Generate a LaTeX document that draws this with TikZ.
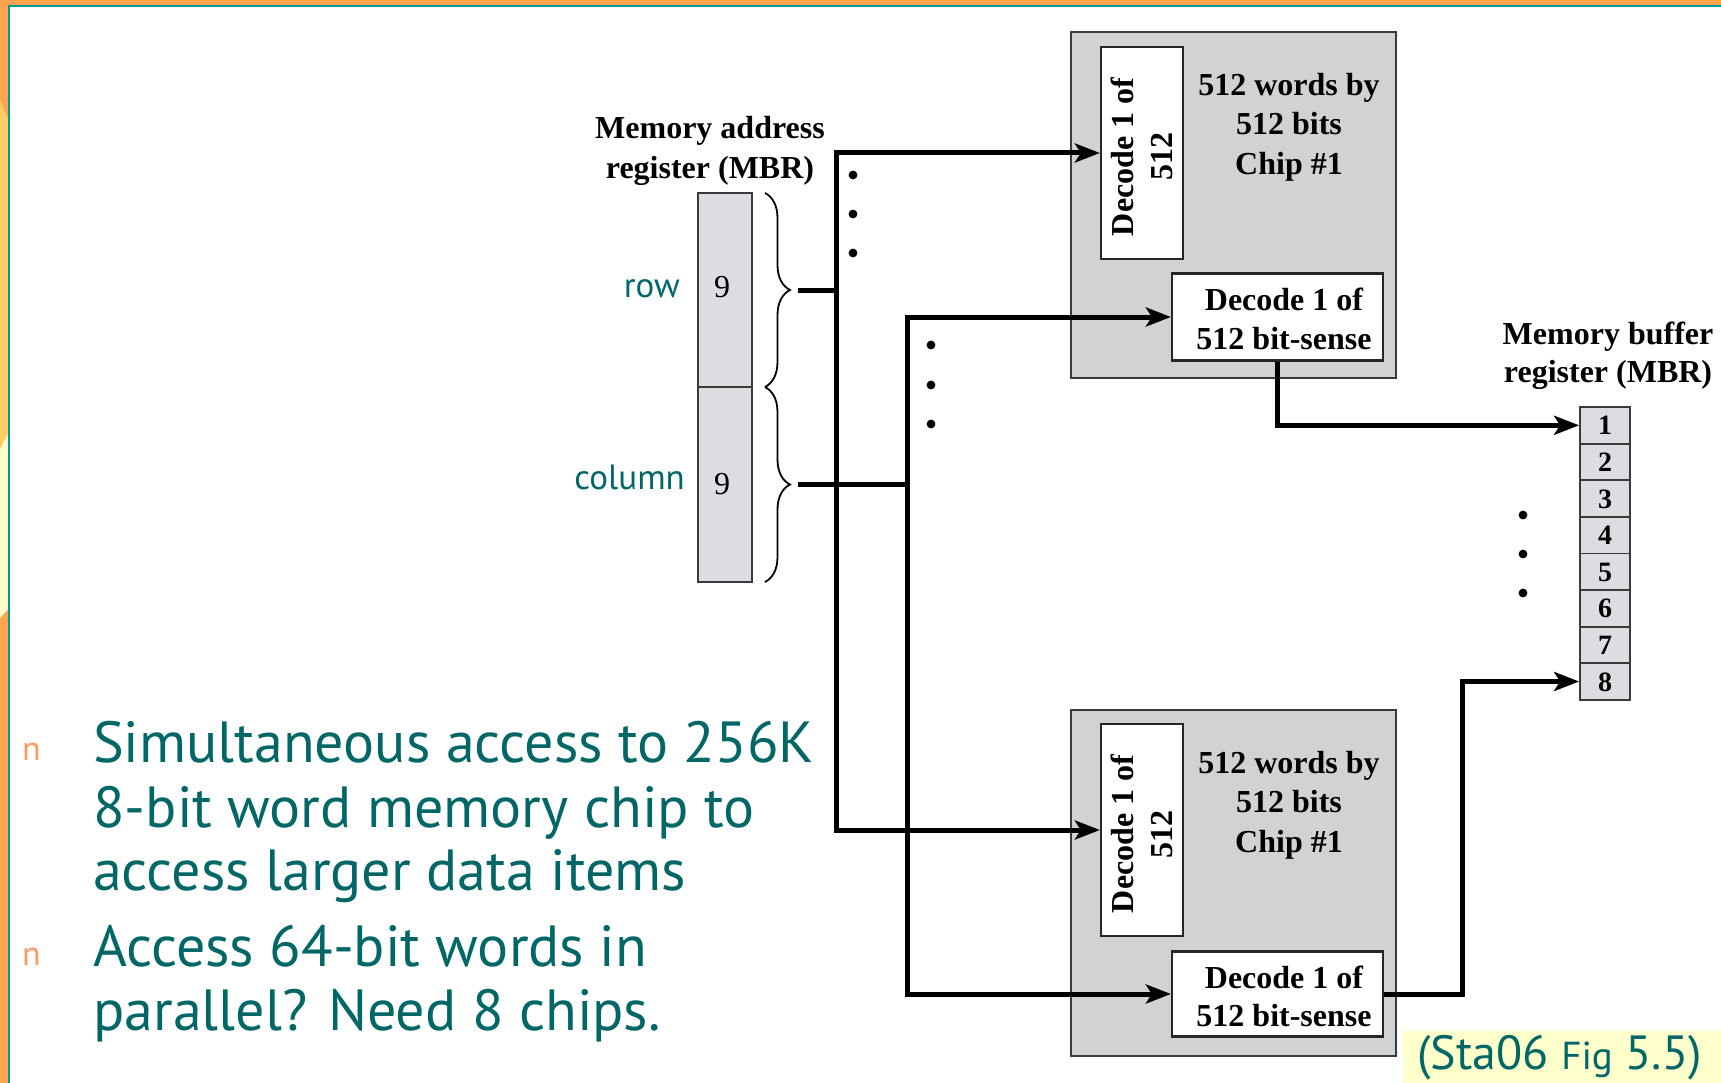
\documentclass[tikz,border=0pt]{standalone}
\usepackage{fontspec}
\setmainfont{Liberation Serif}
\newfontfamily\slidefont{PT Sans}
\usetikzlibrary{arrows.meta,decorations.pathreplacing}
\definecolor{frameorange}{HTML}{FFA54F}
\definecolor{framelight}{HTML}{FFCC66}
\definecolor{framepale}{HTML}{FFFFCC}
\definecolor{frameteal}{HTML}{009999}
\definecolor{slideteal}{HTML}{006666}
\definecolor{bulletorange}{HTML}{FF9966}
\definecolor{chipgray}{HTML}{D1D2D4}
\definecolor{cellgray}{HTML}{DCDDE0}
\definecolor{edgegray}{HTML}{3A3A3A}
\begin{document}
\begin{tikzpicture}[x=1pt,y=-1pt,
  diag/.style={font=\fontsize{32}{39}\selectfont\bfseries, inner sep=0pt},
  cellnum/.style={font=\fontsize{28}{32}\selectfont\bfseries, inner sep=0pt},
  slide/.style={font=\slidefont\fontsize{58}{64}\selectfont, text=slideteal, inner sep=0pt, anchor=base west},
  bul/.style={font=\slidefont\fontsize{34}{36}\selectfont, text=bulletorange, inner sep=0pt, anchor=base west},
  sidelabel/.style={font=\slidefont\fontsize{35}{40}\selectfont, text=slideteal, inner sep=0pt, anchor=base east},
  chipbox/.style={draw=edgegray, line width=2.2pt, fill=chipgray, inner sep=0pt},
  decbox/.style={draw=black!85, line width=2.2pt, fill=white, inner sep=0pt},
  regcell/.style={draw=edgegray, line width=2.2pt, fill=cellgray, inner sep=0pt, minimum width=54pt},
  mbrcell/.style={draw=edgegray, line width=1.8pt, fill=cellgray, inner sep=0pt, minimum width=50pt, minimum height=36.6pt},
  wire/.style={line width=5pt, -{Stealth[length=25pt,width=19pt,inset=6pt]}},
  plainwire/.style={line width=5pt},
  bracestyle/.style={line width=1.8pt, decorate, decoration={brace, amplitude=25pt}},
  dotmark/.style={fill=black}
]
\useasboundingbox (0,0) rectangle (1721,1083);
% ---------- slide frame ----------
\fill[white] (0,0) rectangle (1721,1083);
\fill[frameorange] (0,0) rectangle (1721,6);
\fill[frameorange] (0,0) rectangle (9,1083);
\fill[framelight] (0,100) -- (9,121) -- (9,432) -- (0,449) -- cycle;
\fill[framepale] (0,449) -- (9,432) -- (9,608) -- (0,618) -- cycle;
\draw[frameteal, line width=2pt] (9,1083) -- (9,6) -- (1721,6);

% ---------- memory address register ----------
\node[diag, anchor=base] (marlabA) at (710,139) {Memory address};
\node[diag, anchor=base] (marlabB) at (710,179) {register (MBR)};
\node[regcell, minimum height=194pt] (marrow) at (725,290) {};
\node[regcell, minimum height=195pt] (marcol) at (725,484.5) {};
\node[diag, anchor=base, font=\fontsize{32}{39}\selectfont] (ninea) at (722,298) {9};
\node[diag, anchor=base, font=\fontsize{32}{39}\selectfont] (nineb) at (722,494) {9};
\node[sidelabel] (rowlab) at (680,298) {row};
\node[sidelabel] (collab) at (685,489) {column};
\draw[bracestyle] (765,193) -- (765,387);
\draw[bracestyle] (765,387) -- (765,582);
\coordinate (rowtip) at (798,291);
\coordinate (coltip) at (798,484);
\coordinate (rowbus) at (836,291);
\coordinate (colbus) at (907,484);

% ---------- chip 1 (top) ----------
\node[chipbox, minimum width=325pt, minimum height=346pt] (chipA) at (1233.5,205) {};
\node[decbox, minimum width=82pt, minimum height=212pt] (decA) at (1142,153) {};
\node[diag, rotate=90, align=center] (decAtext) at (1142,157) {Decode 1 of\\512};
\node[decbox, minimum width=211pt, minimum height=87pt] (senseA) at (1277.5,317) {};
\node[diag, anchor=base] (senseAa) at (1284,311) {Decode 1 of};
\node[diag, anchor=base] (senseAb) at (1284,349) {512 bit-sense};
\node[diag, anchor=base] (chipAa) at (1289,95.5) {512 words by};
\node[diag, anchor=base] (chipAb) at (1289,135) {512 bits};
\node[diag, anchor=base] (chipAc) at (1289,174.5) {Chip \#1};

% ---------- chip 2 (bottom) ----------
\node[chipbox, minimum width=325pt, minimum height=346pt] (chipB) at (1233.5,883) {};
\node[decbox, minimum width=82pt, minimum height=212pt] (decB) at (1142,830) {};
\node[diag, rotate=90, align=center] (decBtext) at (1142,834) {Decode 1 of\\512};
\node[decbox, minimum width=211pt, minimum height=85pt] (senseB) at (1277.5,994) {};
\node[diag, anchor=base] (senseBa) at (1284,988) {Decode 1 of};
\node[diag, anchor=base] (senseBb) at (1284,1026) {512 bit-sense};
\node[diag, anchor=base] (chipBa) at (1289,773) {512 words by};
\node[diag, anchor=base] (chipBb) at (1289,812.5) {512 bits};
\node[diag, anchor=base] (chipBc) at (1289,852) {Chip \#1};

% ---------- memory buffer register ----------
\node[diag, anchor=base] (mbrlabA) at (1608,344) {Memory buffer};
\node[diag, anchor=base] (mbrlabB) at (1608,382) {register (MBR)};
\foreach \i in {1,...,8} {
  \node[mbrcell] (mbr\i) at (1605,{407+36.6*(\i-0.5)}) {};
}
\foreach \i in {1,...,8} {
  \node[cellnum, anchor=base] (mbrnum\i) at ([yshift=-9.5pt]mbr\i.center) {\i};
}

% ---------- connectors ----------
\draw[plainwire] (rowtip) -- (rowbus);
\draw[wire] (rowbus) |- (decA.west);
\draw[wire] (rowbus) |- (decB.west);
\draw[plainwire] (coltip) -- (colbus);
\draw[wire] (colbus) |- (senseA.west);
\draw[wire] (colbus) |- (senseB.west);
\draw[wire] (senseA.south) |- (mbr1.west);
\draw[wire] (senseB.east) -| ([xshift=-117pt]mbr8.west) -- (mbr8.west);

% ---------- dots ----------
\foreach \y in {175,214,253} \fill[dotmark] (853,\y) circle (4.4pt);
\foreach \y in {345,385,424} \fill[dotmark] (931,\y) circle (4.4pt);
\foreach \y in {515,554,593} \fill[dotmark] (1523,\y) circle (4.4pt);

% ---------- slide text ----------
\node[bul] (b1) at (22,760) {n};
\node[bul] (b2) at (22,965) {n};
\node[slide] (t1) at (93,762) {Simultaneous access to 256K};
\node[slide] (t2) at (93,827.5) {8-bit word memory chip to};
\node[slide] (t3) at (93,890) {access larger data items};
\node[slide] (t4) at (93,966) {Access 64-bit words in};
\node[slide] (t5) at (93,1030.5) {parallel? Need 8 chips.};

% ---------- citation ----------
\fill[framepale] (1403,1031) rectangle (1721,1083);
\node[font=\slidefont\fontsize{48}{52}\selectfont, text=slideteal, inner sep=0pt, anchor=base west] (cite) at (1417,1069)
  {(Sta06 {\fontsize{39}{44}\selectfont Fig} 5.5)};
\end{tikzpicture}
\end{document}
